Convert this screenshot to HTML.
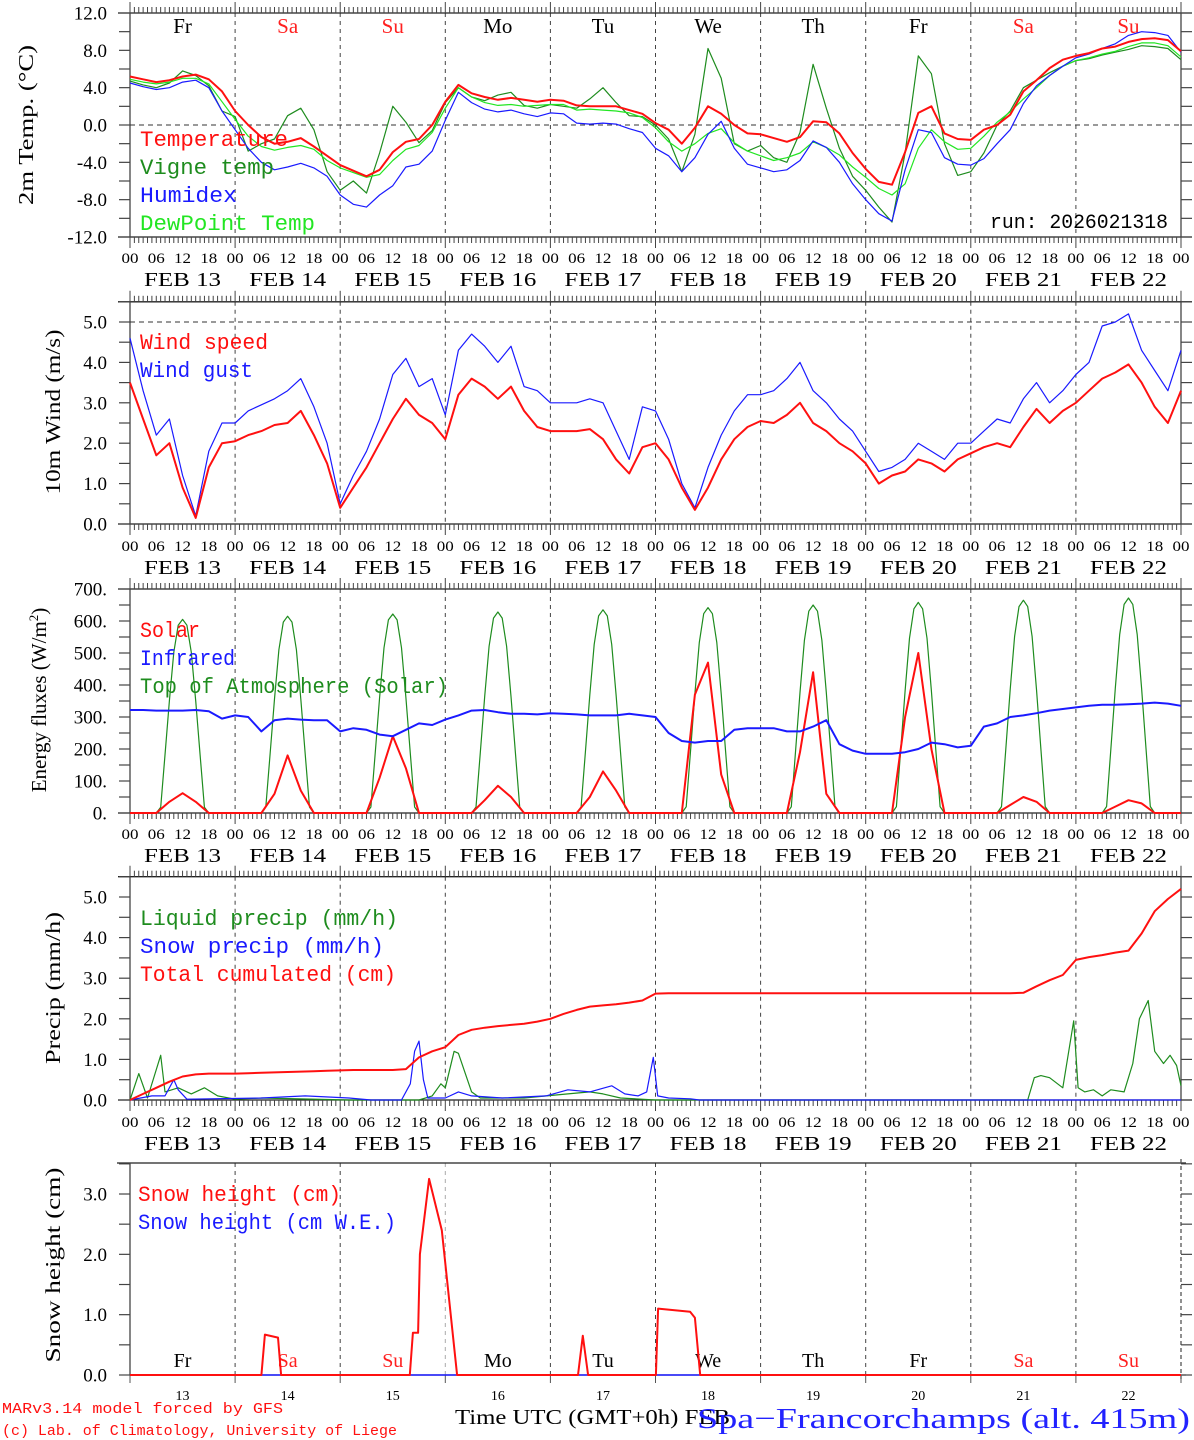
<!DOCTYPE html>
<html><head><meta charset="utf-8">
<style>
html,body{margin:0;padding:0;background:#fff;}
svg{display:block;}
text{font-family:"Liberation Serif",serif;}
.mono{font-family:"Liberation Mono",monospace;}
</style></head>
<body>
<svg id="chart" xmlns="http://www.w3.org/2000/svg" width="1194" height="1440" viewBox="0 0 1194 1440">
<rect x="0" y="0" width="1194" height="1440" fill="#fff"/>
</svg>
<script>
// ---------- DATA (3-hourly, hour = index*3, from FEB 13 00 UTC) ----------
const dayNames = ["Fr","Sa","Su","Mo","Tu","We","Th","Fr","Sa","Su"];
const dayNums = ["13","14","15","16","17","18","19","20","21","22"];
const hourTickLabels = ["00","06","12","18"];
const tempTicks = [-12,-8,-4,0,4,8,12];
const windTicks = [0,1,2,3,4,5];
const fluxTicks = [0,100,200,300,400,500,600,700];
const precipTicks = [0,1,2,3,4,5];
const snowTicks = [0,1,2,3];

const temperature = [5.2,4.9,4.6,4.8,5.2,5.4,4.9,3.6,1.5,0.0,-1.3,-2.0,-1.8,-1.4,-2.3,-3.3,-4.3,-4.9,-5.5,-4.8,-2.9,-1.8,-1.5,0.0,2.5,4.3,3.4,3.0,2.7,2.9,2.7,2.5,2.7,2.6,2.1,2.0,2.0,2.0,1.6,1.2,0.2,-0.5,-2.0,-0.3,2.0,1.2,0.0,-0.9,-1.0,-1.4,-1.8,-1.3,0.4,0.3,-0.9,-3.0,-4.7,-6.1,-6.4,-2.9,1.3,2.0,-0.9,-1.5,-1.6,-0.5,0.0,1.1,3.6,4.8,6.1,7.0,7.4,7.7,8.2,8.4,8.9,9.2,9.3,9.1,7.9];
const vigneTemp = [4.7,4.3,4.0,4.5,5.8,5.3,4.2,1.5,0.9,-2.8,-2.0,-1.5,1.0,1.8,-0.5,-5.0,-7.0,-6.0,-7.3,-3.0,2.0,0.3,-1.9,-0.6,2.4,4.0,3.0,2.6,3.2,3.5,2.1,1.8,2.2,2.0,1.8,2.8,4.0,2.4,1.0,0.9,0.0,-1.5,-5.0,-1.0,8.2,5.0,-2.0,-2.8,-2.2,-3.5,-4.0,-0.8,6.5,1.8,-2.5,-5.5,-7.0,-8.8,-10.4,-3.0,7.4,5.5,-2.0,-5.4,-5.0,-3.0,0.0,1.5,4.0,4.8,5.6,6.3,6.9,7.1,7.5,7.8,8.1,8.5,8.4,8.2,7.0];
const humidex = [4.5,4.1,3.8,4.0,4.6,4.8,4.0,1.5,-0.5,-2.5,-4.0,-4.8,-4.5,-4.1,-4.6,-5.5,-7.5,-8.5,-8.8,-7.5,-6.5,-4.5,-4.2,-2.8,0.5,3.5,2.4,1.7,1.4,1.6,1.2,0.9,1.3,1.2,0.2,0.1,0.2,0.1,-0.4,-0.8,-2.5,-3.3,-5.0,-3.5,-1.0,0.4,-2.5,-4.2,-4.6,-5.0,-4.8,-3.8,-1.7,-2.4,-4.0,-6.3,-8.0,-9.5,-10.3,-4.8,-0.5,-0.8,-3.5,-4.2,-4.3,-3.6,-2.0,-0.5,2.3,4.2,5.3,6.3,7.2,7.6,8.2,8.7,9.6,10.0,9.9,9.6,7.8];
const dewPoint = [4.9,4.6,4.4,4.6,5.0,5.0,4.4,2.5,0.6,-1.2,-2.3,-2.7,-2.4,-2.2,-2.6,-3.8,-4.6,-5.1,-5.6,-5.3,-3.8,-2.6,-2.2,-0.8,1.8,4.0,3.0,2.4,2.1,2.2,2.0,2.1,2.2,2.2,1.6,1.7,1.6,1.5,1.3,0.8,-0.3,-1.8,-2.8,-2.0,-0.9,-0.4,-1.9,-2.8,-3.3,-3.8,-3.5,-3.0,-1.8,-2.4,-3.2,-4.5,-5.6,-6.8,-7.5,-6.3,-2.5,-0.5,-1.8,-2.6,-2.5,-1.2,0.3,1.4,2.8,4.0,5.3,6.3,6.9,7.2,7.6,7.9,8.4,8.8,8.8,8.5,7.3];

const windSpeed = [3.5,2.6,1.7,2.0,0.9,0.15,1.4,2.0,2.05,2.2,2.3,2.45,2.5,2.8,2.2,1.5,0.4,0.9,1.4,2.0,2.6,3.1,2.7,2.5,2.1,3.2,3.6,3.4,3.1,3.4,2.8,2.4,2.3,2.3,2.3,2.35,2.1,1.6,1.25,1.9,2.0,1.6,0.9,0.35,0.9,1.6,2.1,2.4,2.55,2.5,2.7,3.0,2.5,2.3,2.0,1.8,1.5,1.0,1.2,1.3,1.6,1.5,1.3,1.6,1.75,1.9,2.0,1.9,2.4,2.85,2.5,2.8,3.0,3.3,3.6,3.75,3.95,3.5,2.9,2.5,3.3];
const windGust = [4.6,3.3,2.2,2.6,1.2,0.2,1.8,2.5,2.5,2.8,2.95,3.1,3.3,3.6,2.9,2.0,0.5,1.2,1.8,2.6,3.7,4.1,3.4,3.6,2.7,4.3,4.7,4.4,4.0,4.4,3.4,3.3,3.0,3.0,3.0,3.1,3.0,2.3,1.6,2.9,2.8,2.1,1.0,0.4,1.4,2.2,2.8,3.2,3.2,3.3,3.6,4.0,3.3,3.0,2.6,2.3,1.8,1.3,1.4,1.6,2.0,1.8,1.6,2.0,2.0,2.3,2.6,2.5,3.1,3.5,3.0,3.3,3.7,4.0,4.9,5.0,5.2,4.3,3.8,3.3,4.3];

const solar = [0,0,0,35,62,35,0,0, 0,0,0,60,180,70,0,0, 0,0,0,110,240,140,0,0, 0,0,0,40,85,50,0,0, 0,0,0,50,130,70,0,0, 0,0,0,370,470,120,0,0, 0,0,0,190,440,60,0,0, 0,0,0,300,500,200,0,0, 0,0,0,25,50,35,0,0, 0,0,0,20,40,30,0,0, 0];
const infrared = [322,322,320,320,320,322,318,295,305,300,255,290,295,292,290,290,255,265,260,245,240,260,280,275,292,305,320,322,315,310,310,308,312,310,308,305,305,305,310,305,300,250,225,220,225,225,260,265,265,265,255,255,270,290,215,195,185,185,185,190,200,220,215,205,210,270,280,300,305,312,320,325,330,335,338,338,340,342,345,342,335];
const toaPeaks = [605,615,622,628,635,642,650,658,665,672];
const toaProfile = [0,0.03,0.3,0.58,0.83,0.97,1,0.97,0.83,0.58,0.3,0.03,0]; // local hours 6..18

const totalCumul = [0,0.15,0.3,0.45,0.58,0.63,0.65,0.65,0.65,0.66,0.67,0.68,0.69,0.70,0.71,0.72,0.73,0.74,0.74,0.74,0.74,0.76,1.05,1.2,1.3,1.6,1.73,1.78,1.82,1.85,1.88,1.93,2.0,2.12,2.22,2.3,2.33,2.36,2.4,2.45,2.62,2.63,2.63,2.63,2.63,2.63,2.63,2.63,2.63,2.63,2.63,2.63,2.63,2.63,2.63,2.63,2.63,2.63,2.63,2.63,2.63,2.63,2.63,2.63,2.63,2.63,2.63,2.63,2.64,2.8,2.95,3.08,3.45,3.52,3.57,3.63,3.68,4.1,4.65,4.95,5.2];
const liquidT = [0,2,4,7,8,11,14,17,20,24,30,50,66,69,71,72,74,75,78,80,90,100,105,108,112,120,205,206.5,208,210,213,215.5,216.5,218,220,222,224,227,229,230.5,232.5,234,236,237.5,239,240];
const liquidV = [0,0.65,0.05,1.1,0.2,0.3,0.15,0.3,0.1,0.02,0.05,0,0,0.1,0.4,0.3,1.2,1.15,0.2,0.05,0.05,0.15,0.2,0.15,0.05,0,0,0.55,0.6,0.55,0.3,1.95,0.3,0.2,0.25,0.1,0.25,0.2,0.9,2.0,2.45,1.2,0.9,1.1,0.85,0.35];
const snowPT = [0,5,8,10,11,13,30,40,50,55,62,64,65,66,67,68,72,75,78,85,95,100,105,110,113,116,118,119.5,120.5,123,128,130,240];
const snowPV = [0,0.1,0.1,0.5,0.25,0.02,0.05,0.1,0.05,0,0,0.4,1.2,1.45,0.5,0.05,0.05,0.2,0.1,0.05,0.1,0.25,0.2,0.35,0.15,0.1,0.2,1.05,0.1,0.05,0.03,0,0];

const snowT = [0,30,30.8,33.8,34.5,63.9,64.6,65.8,66.2,68.3,71.2,74.7,102.3,103.4,104.6,120.1,120.6,127.9,129,130.2,240];
const snowV = [0,0,0.67,0.62,0,0,0.7,0.7,2.0,3.25,2.4,0,0,0.65,0,0,1.1,1.05,0.95,0,0];
const snowWeT = [0,240];
const snowWeV = [0,0];

// ---------- LAYOUT ----------
const NS = "http://www.w3.org/2000/svg";
const svg = document.getElementById('chart');
const X0 = 130, X1 = 1181;
function xh(h){ return X0 + h*(X1-X0)/240; }
const P = {
  temp:{top:13,bot:237,vmin:-12,vmax:12},
  wind:{top:301.8,bot:524,vmin:0,vmax:5.5},
  flux:{top:589,bot:813,vmin:0,vmax:700},
  prec:{top:876.7,bot:1100,vmin:0,vmax:5.5},
  snow:{top:1163,bot:1375,vmin:0,vmax:3.514}
};
function yv(p,v){ return p.bot - (v-p.vmin)/(p.vmax-p.vmin)*(p.bot-p.top); }

function el(tag, attrs, parent){
  const e = document.createElementNS(NS, tag);
  for (const k in attrs) e.setAttribute(k, attrs[k]);
  (parent||svg).appendChild(e);
  return e;
}
function line(x1,y1,x2,y2,stroke,w,dash,name,parent){
  const e = el('line',{x1:x1,y1:y1,x2:x2,y2:y2,stroke:stroke,'stroke-width':w||1},parent);
  if (dash) e.setAttribute('stroke-dasharray',dash);
  
  
  return e;
}
function text(x,y,str,opts,name,parent){
  opts = opts||{};
  const e = el('text',{x:x,y:y,'font-size':opts.size||18,fill:opts.fill||'#000','text-anchor':opts.anchor||'start'},parent);
  if (opts.cls) e.setAttribute('class',opts.cls);
  if (opts.len){ e.setAttribute('textLength',opts.len); e.setAttribute('lengthAdjust','spacingAndGlyphs'); }
  if (opts.transform) e.setAttribute('transform',opts.transform);
  e.textContent = str;
  
  
  return e;
}
function series3h(p, vals, color, w, name){
  let d = '';
  vals.forEach((v,i)=>{ d += (i?'L':'M') + xh(i*3).toFixed(1) + ' ' + yv(p,v).toFixed(1); });
  const e = el('path',{d:d,fill:'none',stroke:color,'stroke-width':w,'stroke-linejoin':'round'});
  
  
  return e;
}
function seriesXY(p, ts, vals, color, w, name){
  let d = '';
  ts.forEach((t,i)=>{ d += (i?'L':'M') + xh(t).toFixed(1) + ' ' + yv(p,vals[i]).toFixed(1); });
  const e = el('path',{d:d,fill:'none',stroke:color,'stroke-width':w,'stroke-linejoin':'round'});
  
  
  return e;
}

function frame(p, key, ticks, minorStep, fmt, full){
  const g = el('g',{});
  
  
  // day dashed lines
  for (let d=1; d<10; d++){
    line(xh(d*24),p.top,xh(d*24),p.bot,(d===3&&key==='snow')?'#aaa':'#444',1,'4,4','day-gridline',g);
  }
  if (full){
    line(118,p.top,1192,p.top,'#222',1.3,null,'top-axis',g);
    line(118,p.bot,1192,p.bot,'#222',1.3,null,'bottom-axis',g);
    line(X1,p.top,X1,p.bot,'#444',1.3,null,'right-axis',g);
    for (let h=0; h<=240; h++){
      const x = xh(h);
      const L = (h%24===0)?11:6;
      line(x,p.top-L,x,p.top,'#444',1,null,'top-tick',g);
      line(x,p.bot,x,p.bot+L,'#444',1,null,'bottom-tick',g);
    }
  } else {
    line(117,p.top,1186,p.top,'#222',1.3,null,'top-axis',g);
    line(X0,p.bot,1186,p.bot,'#777',1.3,null,'bottom-axis',g);
    line(X1,p.top-4,X1,p.bot+4,'#555',1.3,'4,3','right-axis',g);
    for (let d=0; d<=10; d++) line(xh(d*24),p.bot,xh(d*24),p.bot+8,'#555',1,null,'bottom-tick',g);
  }
  line(X0,p.top,X0,p.bot,'#444',1.3,null,'left-axis',g);
  // y ticks
  for (let v=p.vmin; v<=p.vmax+1e-6; v+=minorStep){
    const y = yv(p,v);
    line(119,y,X0,y,'#444',1.2,null,'y-tick',g);
    line(X1,y,1192,y,'#444',1.2,null,'y-tick-right',g);
  }
  ticks.forEach(v=>{
    text(107, yv(p,v)+6.5, fmt(v), {size:19, anchor:'end'}, 'y-tick-label', g);
  });
}
function hourLabels(p, y1, y2){
  const g = el('g',{});
  
  
  for (let d=0; d<=10; d++){
    for (let k=0; k<4; k++){
      if (d===10 && k>0) break;
      text(xh(d*24+k*6), y1, hourTickLabels[k], {size:15, anchor:'middle', len:17}, 'hour-tick-label', g);
    }
  }
  for (let d=0; d<10; d++){
    text(xh(d*24+12), y2, 'FEB ' + dayNums[d], {size:20, anchor:'middle', len:77}, 'date-label', g);
  }
}
function legend(x, y0, items, lens, size){
  items.forEach((it,i)=>{
    text(x, y0 + i*28, it[0], {size:size||21, fill:it[1], cls:'mono', len:lens[i]}, 'legend-entry');
  });
}

// ---------- PANEL 1: temperature ----------
const f1 = v => v.toFixed(1);
frame(P.temp,'temp',tempTicks,2,f1,true);
line(X0,yv(P.temp,0),X1,yv(P.temp,0),'#333',1,'5,4','zero-line');
hourLabels(P.temp,263,286);
dayNames.forEach((n,i)=>{
  text(xh(i*24+12), 33, n, {size:21, anchor:'middle', fill:(n==='Sa'||n==='Su')?'#ff2020':'#000'}, 'weekday-label');
});
text(33,125,'2m Temp. (°C)',{size:21,anchor:'middle',transform:'rotate(-90 33 125)',len:160},'y-axis-title');
series3h(P.temp, vigneTemp, '#1e8c1e', 1.2, 'vigne-temp-line');
series3h(P.temp, dewPoint, '#22e622', 1.2, 'dewpoint-line');
series3h(P.temp, humidex, '#1a1aff', 1.2, 'humidex-line');
series3h(P.temp, temperature, '#ff1010', 2, 'temperature-line');
legend(140,146,[['Temperature','#ff1010'],['Vigne temp','#1e8c1e'],['Humidex','#1a1aff'],['DewPoint Temp','#22e622']],[148,134,97,175],22);
text(990,228,'run: 2026021318',{size:20,cls:'mono',len:178},'run-label');

// ---------- PANEL 2: wind ----------
frame(P.wind,'wind',windTicks,0.5,f1,true);
line(X0,yv(P.wind,5),X1,yv(P.wind,5),'#333',1,'5,4','max-line');
hourLabels(P.wind,551,574);
text(60,412,'10m Wind (m/s)',{size:21,anchor:'middle',transform:'rotate(-90 60 412)',len:165},'y-axis-title');
series3h(P.wind, windGust, '#1a1aff', 1.2, 'wind-gust-line');
series3h(P.wind, windSpeed, '#ff1010', 2, 'wind-speed-line');
legend(140,349,[['Wind speed','#ff1010'],['Wind gust','#1a1aff']],[128,113],22);

// ---------- PANEL 3: energy ----------
frame(P.flux,'flux',fluxTicks,50,v=>v.toFixed(0)+'.',true);
hourLabels(P.flux,839,862);
const ttl = text(46,700,'Energy fluxes (W/m',{size:21,anchor:'middle',transform:'rotate(-90 46 700)'},'y-axis-title');
const sup = el('tspan',{'font-size':13,dy:-8},ttl); sup.textContent='2';
 
const cl = el('tspan',{dy:8},ttl); cl.textContent=')';
 
(function(){
  const ts=[], vs=[];
  for (let d=0; d<10; d++){
    toaProfile.forEach((f,k)=>{ ts.push(d*24+6+k); vs.push(toaPeaks[d]*f); });
  }
  ts.unshift(0); vs.unshift(0); ts.push(240); vs.push(0);
  seriesXY(P.flux, ts, vs, '#1e8c1e', 1.2, 'toa-solar-line');
})();
series3h(P.flux, solar, '#ff1010', 2, 'solar-line');
series3h(P.flux, infrared, '#1a1aff', 2, 'infrared-line');
legend(140,637,[['Solar','#ff1010'],['Infrared','#1a1aff'],['Top of Atmosphere (Solar)','#1e8c1e']],[60,95,308],22);

// ---------- PANEL 4: precip ----------
frame(P.prec,'prec',precipTicks,0.5,f1,true);
hourLabels(P.prec,1127,1150);
text(60,988,'Precip (mm/h)',{size:21,anchor:'middle',transform:'rotate(-90 60 988)',len:152},'y-axis-title');
seriesXY(P.prec, liquidT, liquidV, '#1e8c1e', 1.2, 'liquid-precip-line');
seriesXY(P.prec, snowPT, snowPV, '#1a1aff', 1.2, 'snow-precip-line');
series3h(P.prec, totalCumul, '#ff1010', 2, 'total-cumulated-line');
legend(140,925,[['Liquid precip (mm/h)','#1e8c1e'],['Snow precip (mm/h)','#1a1aff'],['Total cumulated (cm)','#ff1010']],[258,244,256],22);

// ---------- PANEL 5: snow height ----------
frame(P.snow,'snow',snowTicks,0.5,f1,false);
dayNames.forEach((n,i)=>{
  text(xh(i*24+12), 1367, n, {size:20, anchor:'middle', fill:(n==='Sa'||n==='Su')?'#ff2020':'#000'}, 'weekday-label');
  text(xh(i*24+12), 1400, dayNums[i], {size:14, anchor:'middle'}, 'day-number-label');
});
text(60,1265,'Snow height (cm)',{size:21,anchor:'middle',transform:'rotate(-90 60 1265)',len:195},'y-axis-title');
seriesXY(P.snow, snowWeT, snowWeV, '#1a1aff', 1.5, 'snow-we-line');
seriesXY(P.snow, snowT, snowV, '#ff1010', 2, 'snow-height-line');
legend(138,1201,[['Snow height (cm)','#ff1010'],['Snow height (cm W.E.)','#1a1aff']],[203,258],22);

// ---------- FOOTER ----------
text(455,1424,'Time UTC (GMT+0h) FEB',{size:21,len:275},'x-axis-title');
text(697,1428,'Spa\u2212Francorchamps (alt. 415m)',{size:29,fill:'#2222ff',len:493},'station-title');
text(2,1413,'MARv3.14 model forced by GFS',{size:15,fill:'#ff1010',cls:'mono',len:281},'model-credit');
text(2,1435,'(c) Lab. of Climatology, University of Liege',{size:15,fill:'#ff1010',cls:'mono',len:395},'copyright-credit');
</script>
</body></html>
